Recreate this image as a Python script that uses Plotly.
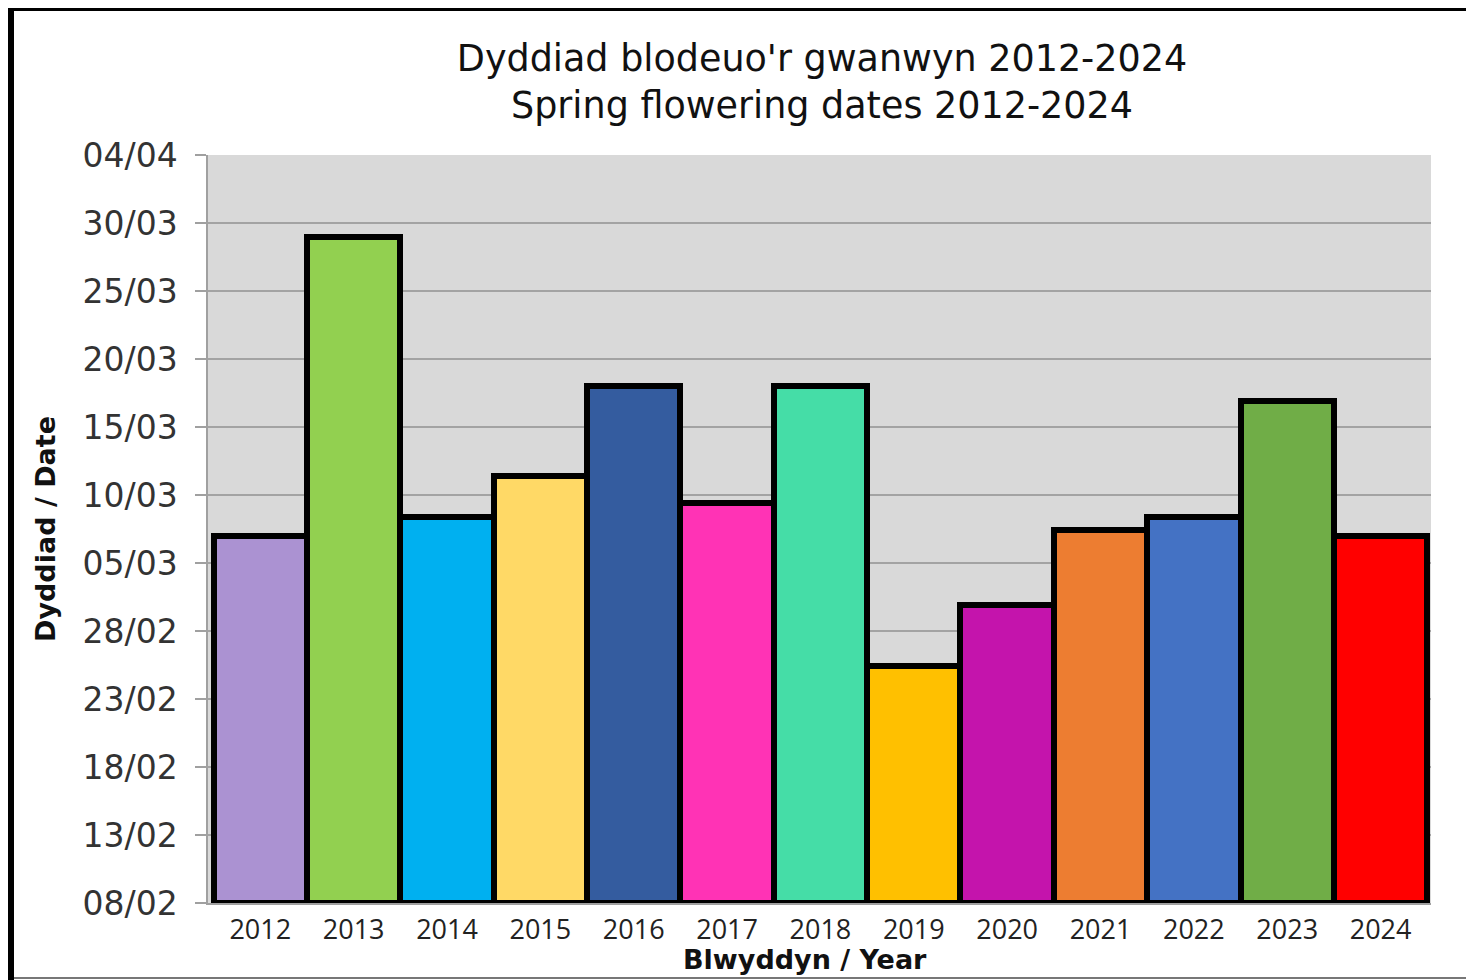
import plotly.graph_objects as go

# ---- data ----
years = ["2012", "2013", "2014", "2015", "2016", "2017", "2018",
         "2019", "2020", "2021", "2022", "2023", "2024"]
# flowering date expressed as days after 08/02
days_after_8feb = [27.0, 49.0, 28.4, 31.4, 38.0, 29.4, 38.0,
                   17.4, 21.9, 27.4, 28.4, 36.9, 27.0]
bar_colors = ["#AB92D2", "#92D050", "#00B0F0", "#FFD966", "#345C9F",
              "#FF33B5", "#45DDA7", "#FFC000", "#C414AC", "#ED7D31",
              "#4472C4", "#70AD47", "#FF0000"]
ytick_vals = [0, 5, 10, 15, 20, 25, 30, 35, 40, 45, 50, 55]
ytick_text = ["08/02", "13/02", "18/02", "23/02", "28/02", "05/03",
              "10/03", "15/03", "20/03", "25/03", "30/03", "04/04"]
x_title = "Blwyddyn / Year"
y_title = "Dyddiad / Date"
chart_title = "Dyddiad blodeuo'r gwanwyn 2012-2024<br>Spring flowering dates 2012-2024"

W, H = 1474, 980
ML, MR, MT, MB = 200, 51, 147, 85

fig = go.Figure(go.Bar(
    x=years, y=days_after_8feb,
    marker=dict(color=bar_colors, line=dict(color="black", width=6)),
    showlegend=False, hoverinfo="x+y",
))

pw = W - ML - MR
ph = H - MT - MB
def px_x(p):
    return (p - ML) / pw
def px_y(p):
    return 1 - (p - MT) / ph

shapes = [
    # black frame (left and top) and grey bottom edge
    dict(type="line", xref="paper", yref="paper", x0=px_x(3), x1=px_x(3),
         y0=px_y(0), y1=px_y(H), line=dict(color="black", width=6)),
    dict(type="line", xref="paper", yref="paper", x0=px_x(0), x1=px_x(W),
         y0=px_y(1.5), y1=px_y(1.5), line=dict(color="black", width=3)),
    dict(type="line", xref="paper", yref="paper", x0=px_x(6), x1=px_x(W),
         y0=px_y(970), y1=px_y(970), line=dict(color="#777777", width=2)),
]

fig.update_layout(
    width=W, height=H,
    margin=dict(l=ML, r=MR, t=MT, b=MB, autoexpand=False),
    paper_bgcolor="white",
    plot_bgcolor="#D9D9D9",
    bargap=0,
    shapes=shapes,
    title=dict(
        text=chart_title,
        xref="container", x=814 / W, xanchor="center",
        yref="container", y=1 - 63 / H, yanchor="middle",
        font=dict(family="DejaVu Sans", size=36.5, color="#111111"),
    ),
    annotations=[dict(
        text="<b>" + x_title + "</b>", showarrow=False,
        xref="paper", yref="paper", x=px_x(797), y=px_y(951),
        xanchor="center", yanchor="middle",
        font=dict(family="DejaVu Sans", size=27, color="#111111"),
    )],
    xaxis=dict(
        type="category",
        range=[-0.56, 12.54],
        showgrid=False,
        showline=True, linecolor="#A0A0A0", linewidth=1.5,
        ticks="",
        tickfont=dict(family="Open Sans", size=27, color="#222222"),
        ticklabelstandoff=2,
    ),
    yaxis=dict(
        range=[0, 55],
        tickvals=ytick_vals, ticktext=ytick_text,
        showgrid=True, gridcolor="#A3A3A3", gridwidth=1.5,
        showline=True, linecolor="#A0A0A0", linewidth=1.5,
        ticks="outside", ticklen=11, tickcolor="#A0A0A0", tickwidth=1.5,
        ticklabelstandoff=11,
        tickfont=dict(family="DejaVu Sans", size=33, color="#333333"),
        zeroline=False,
        title=dict(text="<b>" + y_title + "</b>", standoff=19,
                   font=dict(family="DejaVu Sans", size=27, color="#111111")),
    ),
)

fig.write_html("out.html")
